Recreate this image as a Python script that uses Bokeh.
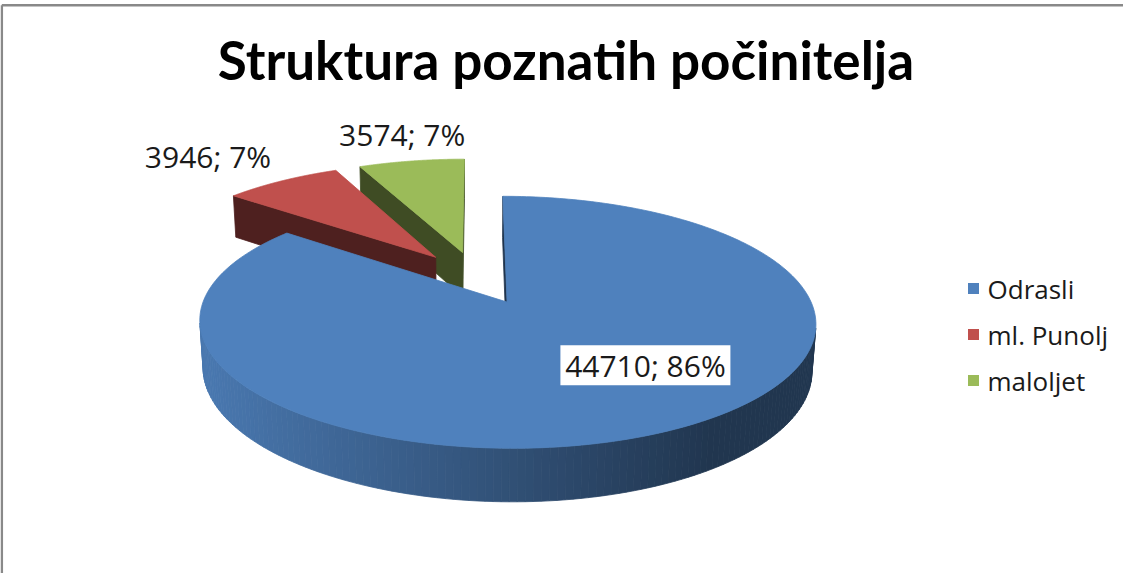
import numpy as np
from bokeh.plotting import figure
from bokeh.models import Range1d
from bokeh.core.properties import value
from bokeh.embed import file_html
from bokeh.resources import INLINE

# ---------------- data ----------------
TITLE = "Struktura poznatih počinitelja"
categories = ["Odrasli", "ml. Punolj", "maloljet"]
counts = [44710, 3946, 3574]
percents = [86, 7, 7]
top_colors = ["#4F81BD", "#C0504D", "#9BBB59"]

# ---------------- style / layout ----------------
W, H = 1123, 573
CX, CY = 484.0, 285.0      # screen position of pie centre
FOC = 1745.0               # focal length (px)
DIST = 5.93                # camera distance (in pie radii)
PHI = np.radians(23.0)     # elevation
THICK = 0.17               # pie thickness (radii)
EXPLODE = 0.23             # explosion distance (radii)
SIDE_LIGHT, SIDE_DARK = 0.93, 0.42
FACE_SHADE = 0.41
GRAD_X0, GRAD_X1 = 215.0, 720.0
LAB_R = [0.63, 1.44, 1.345]
LAB_DA = [15.0, 3.0, -1.0]
LEG_X, LEG_Y0, LEG_DY = 981.0, 296.0, 46.0

cphi, sphi = np.cos(PHI), np.sin(PHI)
CAM_UV = np.array([0.0, -DIST * cphi])


def proj(u, v, z):
    u = np.asarray(u, float)
    v = np.asarray(v, float)
    z = np.asarray(z, float)
    depth = DIST + v * cphi - z * sphi
    return CX + FOC * u / depth, CY - FOC * (v * sphi + z * cphi) / depth


def shade(hexcol, f):
    h = hexcol.lstrip("#")
    r, g, b = (int(h[i:i + 2], 16) for i in (0, 2, 4))
    return "#%02x%02x%02x" % (int(r * f), int(g * f), int(b * f))


p = figure(width=W, height=H, x_range=Range1d(8, 8 + W), y_range=Range1d(8 + H, 8),
           output_backend="svg", toolbar_location=None, min_border=0,
           x_axis_location=None, y_axis_location=None)
p.grid.visible = False
p.outline_line_color = None
p.background_fill_color = "white"
p.border_fill_color = "white"

# chart-area frame (only top/left edges fall inside the view)
p.segment(x0=[9.3, 9.3], y0=[8 + H, 12.8], x1=[9.3, 8 + W], y1=[12.8, 12.8],
          line_color="#898989", line_width=2.5)

total = float(sum(counts))
start = 90.0
slices = []
acc = 0.0
for i, cnt in enumerate(counts):
    a0 = start - 360.0 * acc / total
    a1 = start - 360.0 * (acc + cnt) / total
    acc += cnt
    bis = np.radians((a0 + a1) / 2)
    V = EXPLODE * np.array([np.cos(bis), np.sin(bis)])
    slices.append(dict(i=i, a0=a0, a1=a1, bis=bis, V=V))

xs, ys, cols = [], [], []
for sl in sorted(slices, key=lambda d: -d["V"][1]):
    i, V = sl["i"], sl["V"]
    a1, a0 = np.radians(sl["a1"]), np.radians(sl["a0"])
    # radial cut faces
    for a, n in ((a1, (np.sin(a1), -np.cos(a1))), (a0, (-np.sin(a0), np.cos(a0)))):
        if np.dot(CAM_UV - V, n) > 0:
            du, dv = np.cos(a), np.sin(a)
            uu = [V[0], V[0] + du, V[0] + du, V[0]]
            vv = [V[1], V[1] + dv, V[1] + dv, V[1]]
            zz = [0, 0, -THICK, -THICK]
            px, py = proj(uu, vv, zz)
            xs.append(list(px)); ys.append(list(py)); cols.append(shade(top_colors[i], FACE_SHADE))
    # outer curved side
    ts = np.linspace(a1, a0, 240)
    for k in range(len(ts) - 1):
        tm = 0.5 * (ts[k] + ts[k + 1])
        n = np.array([np.cos(tm), np.sin(tm)])
        P = V + n
        if np.dot(CAM_UV - P, n) > 0:
            uu = [V[0] + np.cos(ts[k]), V[0] + np.cos(ts[k + 1]), V[0] + np.cos(ts[k + 1]), V[0] + np.cos(ts[k])]
            vv = [V[1] + np.sin(ts[k]), V[1] + np.sin(ts[k + 1]), V[1] + np.sin(ts[k + 1]), V[1] + np.sin(ts[k])]
            zz = [0, 0, -THICK, -THICK]
            px, py = proj(uu, vv, zz)
            f = np.clip((np.mean(px) - GRAD_X0) / (GRAD_X1 - GRAD_X0), 0, 1)
            xs.append(list(px)); ys.append(list(py))
            cols.append(shade(top_colors[i], SIDE_LIGHT + (SIDE_DARK - SIDE_LIGHT) * f))
    # top face
    ts = np.linspace(a1, a0, 300)
    uu = np.concatenate([[V[0]], V[0] + np.cos(ts)])
    vv = np.concatenate([[V[1]], V[1] + np.sin(ts)])
    px, py = proj(uu, vv, np.zeros_like(uu))
    xs.append(list(px)); ys.append(list(py)); cols.append(top_colors[i])

p.patches(xs=xs, ys=ys, fill_color=cols, line_color=cols, line_width=0.8)

# data labels
lx, ly, lt = [], [], []
for sl in slices:
    i = sl["i"]
    a = sl["bis"] + np.radians(LAB_DA[i])
    u = sl["V"][0] + LAB_R[i] * np.cos(a)
    v = sl["V"][1] + LAB_R[i] * np.sin(a)
    x, y = proj(u, v, 0.0)
    lx.append(float(x)); ly.append(float(y))
    lt.append(f"{counts[i]}; {percents[i]}%")

# white box behind the inside label
p.rect(x=lx[:1], y=ly[:1], width=170, height=40, width_units="screen", height_units="screen",
       fill_color="white", line_color=None)
p.text(x=lx, y=ly, text=lt, text_font=value("Open Sans"), text_font_size="30px",
       text_color="#1a1a1a", text_align="center", text_baseline="middle")

# title
p.text(x=[573.5], y=[67], text=[TITLE], text_font=value("Lato"), text_font_style="bold",
       text_font_size="53px", text_color="black", text_align="center", text_baseline="middle")

# legend
leg_y = [LEG_Y0 + LEG_DY * k for k in range(len(categories))]
p.scatter(x=[LEG_X] * len(categories), y=leg_y, marker="square", size=11,
          fill_color=top_colors, line_color=None)
p.text(x=[LEG_X + 14] * len(categories), y=leg_y, text=categories, text_font=value("Open Sans"),
       text_font_size="26px", text_color="#1a1a1a", text_align="left", text_baseline="middle")

open("out.html", "w").write(file_html(p, INLINE))
